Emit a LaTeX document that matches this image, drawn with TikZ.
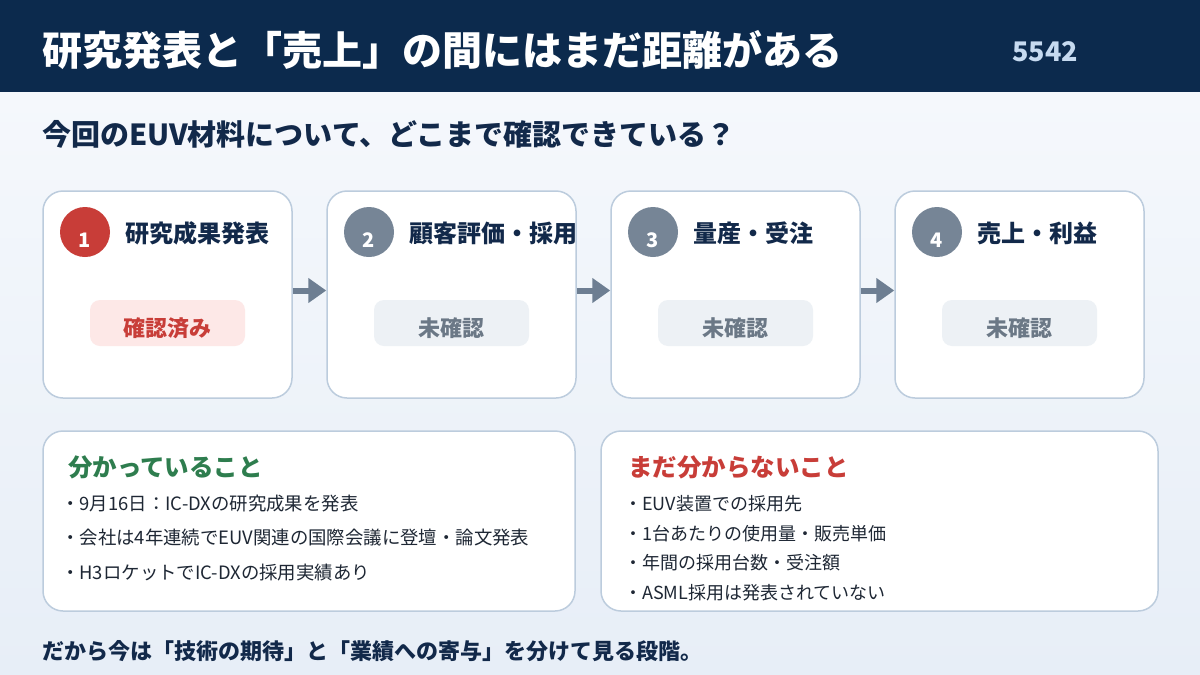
\documentclass[tikz,border=0pt]{standalone}
\usepackage{fontspec}
\setmainfont{Noto Sans CJK JP}
\usetikzlibrary{arrows.meta}

\definecolor{hdrnavy}{HTML}{0C2A4D}
\definecolor{inknavy}{HTML}{12294A}
\definecolor{idlight}{HTML}{C6DAF0}
\definecolor{bgtop}{HTML}{F5F8FC}
\definecolor{bgbot}{HTML}{E7EEF7}
\definecolor{cardline}{HTML}{BCCCDD}
\definecolor{stepred}{HTML}{C83D38}
\definecolor{stepgray}{HTML}{768596}
\definecolor{pillred}{HTML}{FDE8E7}
\definecolor{pillgray}{HTML}{EDF1F5}
\definecolor{pilltext}{HTML}{6B7886}
\definecolor{flowgray}{HTML}{6D7E92}
\definecolor{okgreen}{HTML}{2E7D4E}
\definecolor{bodyink}{HTML}{1E2734}

\newcommand{\fs}[1]{\fontsize{#1}{#1}\selectfont}

\begin{document}
\begin{tikzpicture}[x=1pt,y=-1pt,
  card/.style={draw=cardline,line width=1.5pt,fill=white,rounded corners=20pt,
    minimum width=249pt,minimum height=207pt,inner sep=0pt},
  numdot/.style={circle,minimum size=50pt,inner sep=0pt},
  numtxt/.style={text=white,font=\bfseries\fs{20pt},inner sep=0pt},
  steptitle/.style={anchor=west,text=inknavy,font=\bfseries\fs{24pt},inner sep=0pt},
  pill/.style={rounded corners=10pt,minimum width=155pt,minimum height=46pt,inner sep=0pt},
  pilltxt/.style={inner sep=0pt,font=\bfseries\fs{22pt}},
  flow/.style={draw=flowgray,line width=6pt,-{Triangle[length=18pt,width=24pt]}},
  panel/.style={draw=cardline,line width=1.5pt,fill=white,rounded corners=20pt,
    minimum height=180pt,inner sep=0pt},
  panelhd/.style={anchor=west,inner sep=0pt,font=\bfseries\fs{24.5pt}},
  item/.style={anchor=west,inner sep=0pt,text=bodyink,font=\fs{18pt}}]
  \useasboundingbox (0,0) rectangle (1200,675);
  \shade[top color=bgtop,bottom color=bgbot] (0,92) rectangle (1200,675);
  \fill[hdrnavy] (0,0) rectangle (1200,92);
  \node[anchor=west,text=white,font=\bfseries\fs{40pt},inner sep=0pt] (title) at (42,50)
    {研究発表と「売上」の間にはまだ距離がある};
  \node[text=idlight,font=\bfseries\fs{27pt},inner sep=0pt] (code) at (1045,52) {5542};
  \node[anchor=west,inner sep=0pt,text=inknavy,font=\bfseries\fs{29pt}] (question) at (42,134)
    {今回のEUV材料について、どこまで確認できている？};

  \foreach \i/\ttl/\dotcol/\pfill/\ptxt/\pcol in {
      1/研究成果発表/stepred/pillred/確認済み/stepred,
      2/顧客評価・採用/stepgray/pillgray/未確認/pilltext,
      3/量産・受注/stepgray/pillgray/未確認/pilltext,
      4/売上・利益/stepgray/pillgray/未確認/pilltext} {
    \node[card] (c\i) at ({167.5+284*(\i-1)},294.5) {};
    \node[numdot,fill=\dotcol] (n\i) at ({85+284*(\i-1)},232) {};
    \node[numtxt] (d\i) at ([yshift=-8pt]n\i.center) {\i};
    \node[steptitle] (t\i) at ({125+284*(\i-1)},233) {\ttl};
    \node[pill,fill=\pfill] (p\i) at ({167.5+284*(\i-1)},323) {};
    \node[pilltxt,text=\pcol] (s\i) at ([yshift=-5pt]p\i.center) {\ptxt};
  }
  \foreach \i/\j in {1/2,2/3,3/4}
    \draw[flow] ([yshift=4pt]c\i.east) -- ([yshift=4pt]c\j.west);

  \node[panel,minimum width=532pt] (known) at (309,521) {};
  \node[panel,minimum width=557pt] (unknown) at (879.5,521) {};
  \node[panelhd,text=okgreen] (knownhd) at (68,467) {分かっていること};
  \node[panelhd,text=stepred] (unknownhd) at (628,467) {まだ分からないこと};
  \foreach \txt [count=\k] in {9月16日：IC-DXの研究成果を発表,
      会社は4年連続でEUV関連の国際会議に登壇・論文発表,
      H3ロケットでIC-DXの採用実績あり}
    \node[item,font=\fs{18.4pt}] (kn\k) at (61,{469+34.5*\k}) {・\txt};
  \foreach \txt [count=\k] in {EUV装置での採用先,
      1台あたりの使用量・販売単価,
      年間の採用台数・受注額,
      ASML採用は発表されていない}
    \node[item] (un\k) at (624,{474.5+29.5*\k}) {・\txt};

  \node[anchor=west,inner sep=0pt,text=inknavy,font=\bfseries\fs{22pt}] (footer) at (42,651)
    {だから今は「技術の期待」と「業績への寄与」を分けて見る段階。};
\end{tikzpicture}
\end{document}
